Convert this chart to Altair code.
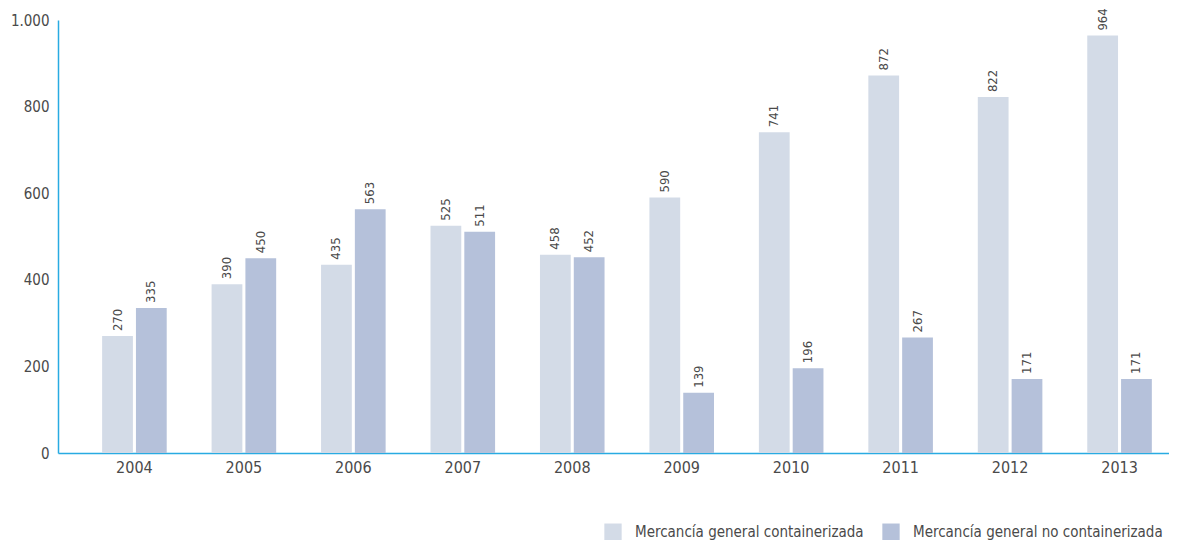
import altair as alt
import pandas as pd

years = ["2004", "2005", "2006", "2007", "2008", "2009", "2010", "2011", "2012", "2013"]
containerizada = [270, 390, 435, 525, 458, 590, 741, 872, 822, 964]
no_containerizada = [335, 450, 563, 511, 452, 139, 196, 267, 171, 171]
series = ["Mercancía general containerizada", "Mercancía general no containerizada"]
colors = ["#D3DBE7", "#B5C1DA"]

rows = []
for i, y in enumerate(years):
    rows.append({"year": y, "serie": series[0], "value": containerizada[i]})
    rows.append({"year": y, "serie": series[1], "value": no_containerizada[i]})
df = pd.DataFrame(rows)

FONT = "DejaVu Sans Condensed, sans-serif"
TXT = "#4a4a4a"
AX = "#29ABE2"

x = alt.X("year:N", sort=years, title=None,
          scale=alt.Scale(paddingInner=0.41, paddingOuter=0.28, align=0.72),
          axis=alt.Axis(labelAngle=0, ticks=False, domainColor=AX, domainWidth=1.5,
                        labelFont=FONT, labelFontSize=16, labelColor=TXT, labelPadding=6))
xo = alt.XOffset("serie:N", sort=series, scale=alt.Scale(paddingInner=0.09))

bars = alt.Chart(df).mark_bar().encode(
    x=x,
    xOffset=xo,
    y=alt.Y("value:Q", title=None,
            scale=alt.Scale(domain=[0, 1000], nice=False),
            axis=alt.Axis(values=[0, 200, 400, 600, 800, 1000], grid=False, ticks=False,
                          domainColor=AX, domainWidth=1.5,
                          labelFont=FONT, labelFontSize=15, labelColor=TXT, labelPadding=9,
                          labelExpr="replace(format(datum.value, ','), ',', '.')")),
    color=alt.Color("serie:N", sort=series, title=None,
                    scale=alt.Scale(domain=series, range=colors),
                    legend=alt.Legend(orient="none", legendX=546, legendY=503, direction="horizontal",
                                      symbolType="square", symbolSize=300, symbolStrokeWidth=0,
                                      symbolOpacity=1,
                                      labelFont=FONT, labelFontSize=15, labelColor=TXT,
                                      labelOffset=13, columnPadding=18, labelLimit=400)),
)

labels = alt.Chart(df).mark_text(angle=270, align="left", baseline="middle", dx=5,
                                 font=FONT, fontSize=13, color=TXT).encode(
    x=alt.X("year:N", sort=years),
    xOffset=xo,
    y=alt.Y("value:Q"),
    text=alt.Text("value:Q"),
)

chart = (bars + labels).properties(
    width=1111, height=433,
    autosize=alt.AutoSizeParams(type="none"),
    padding={"left": 50, "top": 12, "right": 0, "bottom": 87},
).configure_view(stroke=None)

chart.save("out.html", embed_options={"renderer": "svg", "actions": False})
